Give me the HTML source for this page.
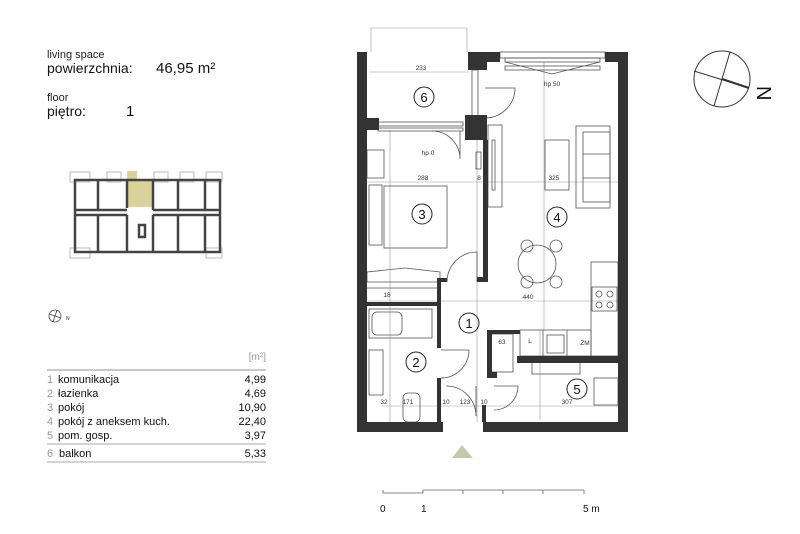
<!DOCTYPE html>
<html><head><meta charset="utf-8"><style>
body{margin:0;background:#fff;width:800px;height:534px;overflow:hidden;font-family:"Liberation Sans",sans-serif;}
svg{position:absolute;left:0;top:0}
</style></head><body>
<svg width="800" height="534" viewBox="0 0 800 534" font-family="Liberation Sans, sans-serif">
<!-- header text -->
<text x="47" y="58" font-size="11" fill="#222">living space</text>
<text x="47" y="73" font-size="14" fill="#111">powierzchnia:</text>
<text x="156" y="73" font-size="15" fill="#111">46,95 m²</text>
<text x="47" y="101" font-size="11" fill="#222">floor</text>
<text x="47" y="116" font-size="14" fill="#111">piętro:</text>
<text x="126" y="116" font-size="15" fill="#111">1</text>

<!-- key plan -->
<g stroke="#444" stroke-width="2.5" fill="none">
<rect x="70" y="172" width="20" height="10" fill="#fff" stroke="#bbb" stroke-width="1"/>
<rect x="107" y="172" width="14" height="10" fill="#fff" stroke="#bbb" stroke-width="1"/>
<rect x="154" y="172" width="14" height="10" fill="#fff" stroke="#bbb" stroke-width="1"/>
<rect x="180" y="172" width="14" height="10" fill="#fff" stroke="#bbb" stroke-width="1"/>
<rect x="206" y="172" width="16" height="10" fill="#fff" stroke="#bbb" stroke-width="1"/>
<rect x="70" y="248" width="20" height="10" fill="#fff" stroke="#bbb" stroke-width="1"/>
<rect x="206" y="248" width="16" height="10" fill="#fff" stroke="#bbb" stroke-width="1"/>
<rect x="127" y="179" width="26" height="28" fill="#d9d29a" stroke="none"/>
<rect x="127" y="171" width="10" height="8" fill="#d9d29a" stroke="none"/>
<rect x="75" y="180" width="145" height="72"/>
<line x1="98" y1="180" x2="98" y2="210"/><line x1="127" y1="180" x2="127" y2="208"/><line x1="153" y1="180" x2="153" y2="210"/><line x1="178" y1="180" x2="178" y2="210"/><line x1="205" y1="180" x2="205" y2="210"/>
<line x1="75" y1="210" x2="127" y2="210"/><line x1="153" y1="210" x2="220" y2="210"/>
<line x1="75" y1="215" x2="127" y2="215"/><line x1="153" y1="215" x2="220" y2="215"/>
<line x1="98" y1="215" x2="98" y2="252"/><line x1="127" y1="215" x2="127" y2="252"/><line x1="153" y1="215" x2="153" y2="252"/><line x1="178" y1="215" x2="178" y2="252"/><line x1="205" y1="215" x2="205" y2="252"/>
<rect x="139" y="225" width="6" height="12"/>
</g>

<!-- small compass -->
<circle cx="55" cy="316" r="6" fill="none" stroke="#444" stroke-width="0.8"/>
<line x1="49" y1="314" x2="61" y2="318" stroke="#444" stroke-width="0.8"/>
<line x1="57" y1="310" x2="53" y2="322" stroke="#444" stroke-width="0.8"/>
<text x="66" y="320" font-size="5" fill="#222">N</text>

<!-- table -->
<text x="266" y="360" font-size="10" fill="#999" text-anchor="end">[m²]</text>
<line x1="47" y1="370" x2="266" y2="370" stroke="#aaa" stroke-width="1.2"/>
<g font-size="11" fill="#111">
<text x="47" y="383" fill="#999">1</text><text x="58" y="383">komunikacja</text><text x="266" y="383" text-anchor="end">4,99</text>
<text x="47" y="397" fill="#999">2</text><text x="58" y="397">łazienka</text><text x="266" y="397" text-anchor="end">4,69</text>
<text x="47" y="411" fill="#999">3</text><text x="58" y="411">pokój</text><text x="266" y="411" text-anchor="end">10,90</text>
<text x="47" y="425" fill="#999">4</text><text x="58" y="425">pokój z aneksem kuch.</text><text x="266" y="425" text-anchor="end">22,40</text>
<text x="47" y="439" fill="#999">5</text><text x="58" y="439">pom. gosp.</text><text x="266" y="439" text-anchor="end">3,97</text>
<text x="47" y="457" fill="#999">6</text><text x="59" y="457">balkon</text><text x="266" y="457" text-anchor="end">5,33</text>
</g>
<line x1="47" y1="444" x2="266" y2="444" stroke="#aaa" stroke-width="1"/>
<line x1="47" y1="462" x2="266" y2="462" stroke="#aaa" stroke-width="1"/>

<!-- big compass -->
<circle cx="722" cy="79" r="28" fill="none" stroke="#333" stroke-width="1"/>
<line x1="694" y1="71" x2="749" y2="88" stroke="#333" stroke-width="1"/>
<line x1="722" y1="79" x2="749" y2="88" stroke="#333" stroke-width="2"/>
<line x1="730" y1="52" x2="714" y2="106" stroke="#333" stroke-width="1"/>
<text x="0" y="0" font-size="20" fill="#111" transform="translate(757,86) rotate(90)">N</text>

<!-- plan thin lines -->
<g stroke="#999" stroke-width="0.6" fill="none">
<path d="M371 52 V28 H467 V52"/>
<line x1="369" y1="72" x2="469" y2="72"/>
<line x1="367" y1="182" x2="618" y2="182"/>
<line x1="367" y1="301" x2="618" y2="301"/>
<line x1="544" y1="62" x2="544" y2="330"/>
<line x1="390" y1="130" x2="390" y2="422"/>
<line x1="477" y1="130" x2="477" y2="422"/>
<line x1="382" y1="406" x2="618" y2="406"/>
<line x1="540" y1="330" x2="540" y2="420"/>
</g>
<g stroke="#555" stroke-width="0.8" fill="none">
<!-- window top right -->
<rect x="500" y="52" width="105" height="6"/><rect x="505" y="58" width="95" height="4"/><rect x="505" y="66" width="95" height="4"/>
<path d="M505 62 L552 74 L600 62"/>
<!-- balcony door window -->
<rect x="378" y="122" width="85" height="4"/><rect x="378" y="128" width="85" height="3"/>
<path d="M432 131 A28 28 0 0 1 460 159 L460 131"/>
<!-- living-balcony door -->
<rect x="472" y="70" width="6" height="48"/>
<path d="M485 118 A30 30 0 0 0 515 88 L485 88"/>
<!-- sofa -->
<rect x="576" y="126" width="34" height="82"/><rect x="583" y="132" width="27" height="70"/><line x1="583" y1="154" x2="610" y2="154"/><line x1="583" y1="178" x2="610" y2="178"/>
<rect x="545" y="140" width="24" height="50"/>
<rect x="488" y="125" width="14" height="82"/><rect x="492" y="140" width="3" height="50"/>
<rect x="476" y="152" width="5" height="17"/>
<!-- wardrobe & bed -->
<rect x="367" y="150" width="17" height="28"/>
<rect x="369" y="185" width="13" height="60"/>
<rect x="384" y="186" width="63" height="62"/>
<path d="M367 272 L405 268 L440 272 V282 H367Z"/>
<line x1="367" y1="288" x2="440" y2="288"/>
<!-- door bedroom -->
<path d="M447 282 A30 30 0 0 1 477 252 V282"/>
<!-- table and chairs -->
<circle cx="537" cy="264" r="19"/>
<circle cx="527" cy="246" r="6"/><circle cx="556" cy="246" r="6"/><circle cx="527" cy="282" r="6"/><circle cx="556" cy="282" r="6"/>
<!-- kitchen -->
<rect x="591" y="262" width="27" height="94"/>
<rect x="592" y="287" width="25" height="24"/>
<circle cx="599" cy="294" r="3"/><circle cx="610" cy="294" r="3"/><circle cx="599" cy="305" r="3"/><circle cx="610" cy="305" r="3"/>
<rect x="520" y="330" width="71" height="26"/><line x1="543" y1="330" x2="543" y2="356"/><line x1="567" y1="330" x2="567" y2="356"/>
<rect x="547" y="335" width="17" height="18"/>
<!-- bathroom -->
<rect x="369" y="309" width="63" height="29"/><rect x="372" y="312" width="30" height="23" rx="5"/>
<rect x="369" y="350" width="14" height="45"/>
<rect x="403" y="393" width="17" height="29" rx="5"/>
<path d="M441 378 A28 28 0 0 0 469 350 H441"/>
<path d="M446 386 A30 30 0 0 1 476 416 V386"/>
<path d="M494 410 A24 24 0 0 0 518 386 H494"/>
<rect x="489" y="334" width="24" height="38"/>
<rect x="532" y="362" width="48" height="12"/>
<rect x="594" y="378" width="24" height="27"/>
</g>

<!-- walls -->
<g fill="#333">
<rect x="357" y="52" width="10" height="380"/>
<rect x="357" y="118" width="22" height="12"/>
<rect x="468" y="52" width="19" height="18"/>
<rect x="465" y="115" width="22" height="25"/>
<rect x="485" y="52" width="15" height="10"/>
<rect x="605" y="52" width="23" height="10"/>
<rect x="618" y="52" width="10" height="380"/>
<rect x="483" y="140" width="5" height="142"/>
<rect x="477" y="277" width="11" height="5"/>
<rect x="437" y="278" width="4" height="70"/>
<rect x="437" y="278" width="10" height="4"/>
<rect x="367" y="302" width="71" height="4"/>
<rect x="437" y="378" width="4" height="44"/>
<rect x="357" y="422" width="86" height="10"/>
<rect x="483" y="422" width="145" height="10"/>
<rect x="487" y="330" width="33" height="4"/>
<rect x="487" y="330" width="5" height="48"/>
<rect x="487" y="372" width="10" height="6"/>
<rect x="517" y="356" width="101" height="7"/>
<rect x="482" y="405" width="4" height="17"/>
</g>

<!-- room numbers -->
<g font-size="13" fill="#111" text-anchor="middle">
<circle cx="424" cy="97" r="10" fill="none" stroke="#222"/><text x="424" y="102">6</text>
<circle cx="422" cy="214" r="10" fill="none" stroke="#222"/><text x="422" y="219">3</text>
<circle cx="557" cy="217" r="10" fill="none" stroke="#222"/><text x="557" y="222">4</text>
<circle cx="469" cy="323" r="10" fill="none" stroke="#222"/><text x="469" y="328">1</text>
<circle cx="416" cy="362" r="10" fill="none" stroke="#222"/><text x="416" y="367">2</text>
<circle cx="577" cy="389" r="10" fill="none" stroke="#222"/><text x="577" y="394">5</text>
</g>
<g font-size="6.5" fill="#333" text-anchor="middle">
<text x="421" y="70">233</text><text x="552" y="86">hp 50</text><text x="428" y="155">hp 0</text>
<text x="423" y="180">288</text><text x="554" y="180">325</text><text x="479" y="180">8</text>
<text x="528" y="299">440</text><text x="387" y="297">18</text>
<text x="502" y="344">63</text><text x="585" y="345">ZM</text><text x="530" y="343">L</text>
<text x="567" y="404">307</text><text x="465" y="404">123</text><text x="446" y="404">10</text><text x="484" y="404">10</text>
<text x="408" y="404">171</text><text x="384" y="404">32</text>
</g>

<!-- entrance triangle -->
<polygon points="462,445 452,458 473,458" fill="#c9c6ae"/>
<!-- scale -->
<g stroke="#666" stroke-width="0.8" fill="none">
<path d="M383 490 V493 H423 V490"/>
<path d="M423 490 H584"/><line x1="463" y1="490" x2="463" y2="494"/><line x1="503" y1="490" x2="503" y2="494"/><line x1="543" y1="490" x2="543" y2="494"/><line x1="584" y1="490" x2="584" y2="494"/>
</g>
<g font-size="10" fill="#111"><text x="380" y="512">0</text><text x="421" y="512">1</text><text x="583" y="512">5 m</text></g>
</svg>
</body></html>
